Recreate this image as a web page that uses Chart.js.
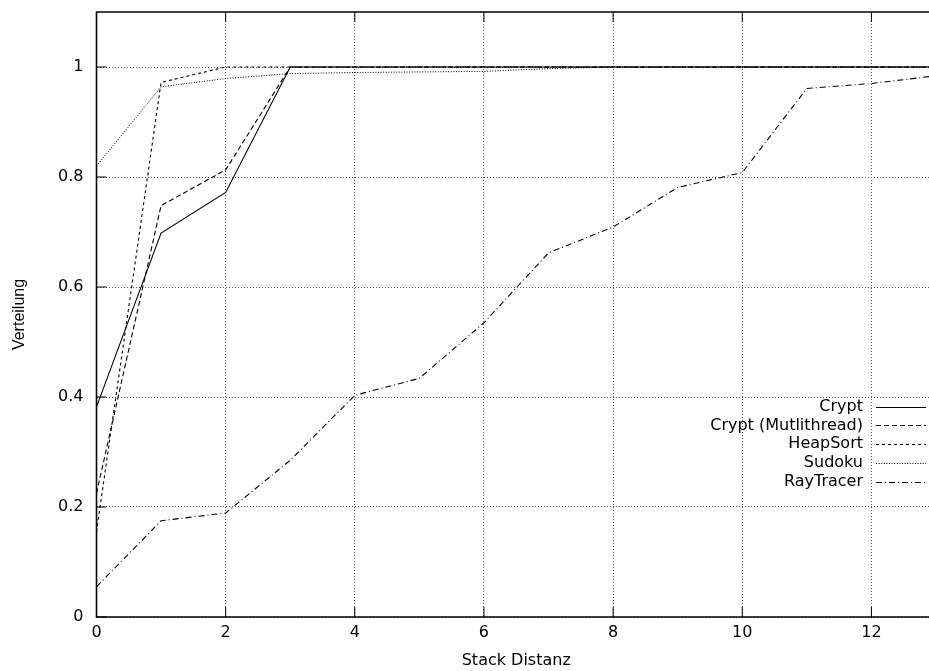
<!DOCTYPE html>
<html>
<head>
<meta charset="utf-8">
<script src="https://cdn.jsdelivr.net/npm/chart.js@4/dist/chart.umd.min.js"></script>
<style>
  html, body { margin: 0; padding: 0; background: #fff; overflow: hidden; }
  #wrap { width: 929px; height: 671px; overflow: hidden; }
  canvas { display: block; }
</style>
</head>
<body>
<div id="wrap"><canvas id="stack-chart" width="940" height="671"></canvas></div>
<script>
// Stack distance distribution per benchmark
const stackDist = [0, 1, 2, 3, 4, 5, 6, 7, 8, 9, 10, 11, 12, 13];
const crypt      = [0.382, 0.698, 0.772, 1, 1, 1, 1, 1, 1, 1, 1, 1, 1, 1];
const cryptMT    = [0.225, 0.748, 0.813, 1, 1, 1, 1, 1, 1, 1, 1, 1, 1, 1];
const heapSort   = [0.155, 0.972, 1, 1, 1, 1, 1, 1, 1, 1, 1, 1, 1, 1];
const sudoku     = [0.82, 0.964, 0.979, 0.988, 0.990, 0.991, 0.992, 0.997, 1, 1, 1, 1, 1, 1];
const rayTracer  = [0.055, 0.175, 0.189, 0.285, 0.403, 0.434, 0.535, 0.662, 0.709, 0.781, 0.808, 0.961, 0.970, 0.984];

const seriesNames = ['Crypt', 'Crypt (Mutlithread)', 'HeapSort', 'Sudoku', 'RayTracer'];
const xTicks = [0, 2, 4, 6, 8, 10, 12];
const yTicks = [0, 0.2, 0.4, 0.6, 0.8, 1];

// horizontal text is set wide, the rotated y title narrow
const FONT_WIDE = "'DejaVu Sans', Verdana, sans-serif";
const FONT = "'Liberation Sans', Arial, Helvetica, sans-serif";

// gnuplot-like line types
const LINE_STYLES = [
  { dash: [],           width: 1.1 },
  { dash: [5, 3],       width: 1.1 },
  { dash: [3, 3],       width: 1.1 },
  { dash: [1, 1.6],     width: 1.0 },
  { dash: [6, 3, 1, 3], width: 1.1 },
];

const toPoints = ys => ys.map((y, i) => ({ x: stackDist[i], y }));

const datasets = [crypt, cryptMT, heapSort, sudoku, rayTracer].map((ys, i) => ({
  label: seriesNames[i],
  data: toPoints(ys),
  borderColor: '#000',
  backgroundColor: 'transparent',
  borderWidth: LINE_STYLES[i].width,
  borderDash: LINE_STYLES[i].dash,
  pointRadius: 0,
  tension: 0,
}));

// frame + inward tick marks (top, left, bottom)
const framePlugin = {
  id: 'frame',
  afterDatasetsDraw(chart) {
    const { ctx, chartArea: a, scales: { x, y } } = chart;
    const tick = 10;
    ctx.save();
    ctx.strokeStyle = '#000';
    ctx.setLineDash([]);
    ctx.lineWidth = 1;
    ctx.beginPath();
    xTicks.forEach(v => {
      const px = x.getPixelForValue(v);
      ctx.moveTo(px, a.bottom); ctx.lineTo(px, a.bottom - tick);
      ctx.moveTo(px, a.top);    ctx.lineTo(px, a.top + tick);
    });
    yTicks.forEach(v => {
      const py = y.getPixelForValue(v);
      ctx.moveTo(a.left, py); ctx.lineTo(a.left + tick, py);
    });
    ctx.stroke();
    ctx.lineWidth = 1.6;
    ctx.beginPath();
    ctx.moveTo(a.right, a.top);
    ctx.lineTo(a.left, a.top);
    ctx.lineTo(a.left, a.bottom);
    ctx.lineTo(a.right, a.bottom);
    ctx.stroke();
    ctx.restore();
  }
};

// key inside the plot, text right-aligned left of the line sample
const keyPlugin = {
  id: 'key',
  afterDraw(chart) {
    const { ctx, chartArea: a } = chart;
    const textRight = a.right - 73;
    const lineFrom = a.right - 60;
    const lineTo = a.right - 10;
    const rowH = 18.75;
    const top = a.top + 394.7;
    ctx.save();
    ctx.font = '16px ' + FONT_WIDE;
    ctx.fillStyle = '#000';
    ctx.textAlign = 'right';
    ctx.textBaseline = 'middle';
    chart.data.datasets.forEach((ds, i) => {
      const cy = top + i * rowH;
      ctx.fillText(ds.label, textRight, cy);
      ctx.strokeStyle = ds.borderColor;
      ctx.lineWidth = ds.borderWidth;
      ctx.setLineDash(ds.borderDash);
      ctx.beginPath();
      ctx.moveTo(lineFrom, Math.round(cy) + 0.5);
      ctx.lineTo(lineTo, Math.round(cy) + 0.5);
      ctx.stroke();
    });
    ctx.restore();
  }
};

// fixed frame geometry: no extra label padding around the plot area
const noScalePadding = s => {
  s.paddingTop = 0;
  s.paddingBottom = 0;
  s.paddingLeft = 0;
  s.paddingRight = 0;
};

new Chart(document.getElementById('stack-chart').getContext('2d'), {
  type: 'line',
  data: { datasets },
  plugins: [framePlugin, keyPlugin],
  options: {
    responsive: false,
    animation: false,
    layout: { padding: { top: 12, left: 0, right: 4, bottom: 0 } },
    plugins: {
      legend: { display: false },
      tooltip: { enabled: false },
    },
    scales: {
      x: {
        type: 'linear',
        min: 0,
        max: 13,
        afterFit: s => { s.height = 54; noScalePadding(s); },
        afterBuildTicks: s => { s.ticks = xTicks.map(v => ({ value: v })); },
        ticks: {
          color: '#000',
          padding: 6,
          maxRotation: 0,
          font: { family: FONT_WIDE, size: 16 },
        },
        grid: { color: '#555', lineWidth: 1, drawTicks: false },
        border: { display: false, dash: [1, 2] },
        title: {
          display: true,
          text: 'Stack Distanz',
          color: '#000',
          font: { family: FONT_WIDE, size: 16 },
          padding: { top: 0, bottom: 1 },
        },
      },
      y: {
        min: 0,
        max: 1.1,
        afterFit: s => { s.width = 96.5; noScalePadding(s); },
        afterBuildTicks: s => { s.ticks = yTicks.map(v => ({ value: v })); },
        ticks: {
          color: '#000',
          padding: 13,
          font: { family: FONT_WIDE, size: 16 },
          callback: v => String(+v.toFixed(1)),
        },
        grid: { color: '#555', lineWidth: 1, drawTicks: false },
        border: { display: false, dash: [1, 2] },
        title: {
          display: true,
          text: 'Verteilung',
          color: '#000',
          font: { family: FONT, size: 16 },
          padding: { top: 10, bottom: 0 },
        },
      },
    },
  },
});
</script>
</body>
</html>
